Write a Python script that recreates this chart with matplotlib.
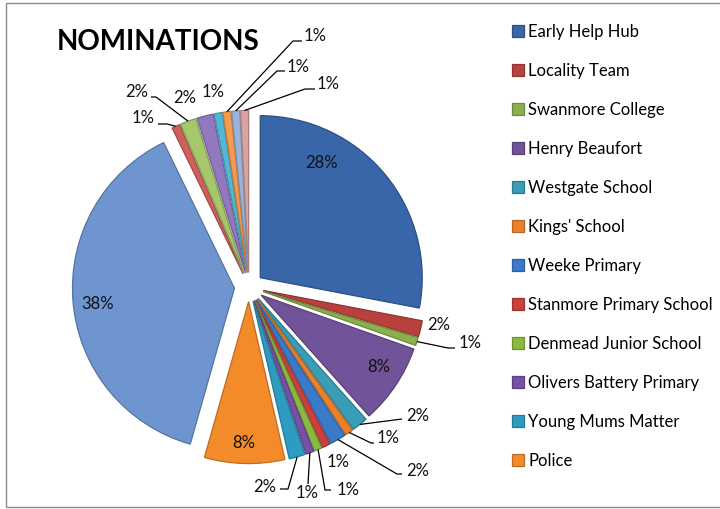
import matplotlib
matplotlib.use("Agg")
import matplotlib.pyplot as plt
from matplotlib.patches import Rectangle
import matplotlib.colors as mcolors
import numpy as np

plt.rcParams['font.family'] = ['Lato', 'DejaVu Sans']

# ---------------- data ----------------
title = "NOMINATIONS"
categories = ["Early Help Hub", "Locality Team", "Swanmore College", "Henry Beaufort",
              "Westgate School", "Kings' School", "Weeke Primary", "Stanmore Primary School",
              "Denmead Junior School", "Olivers Battery Primary", "Young Mums Matter", "Police"]
values = [35, 2, 1, 10, 2, 1, 2, 1, 1, 1, 2, 10, 48, 1, 2, 2, 1, 1, 1, 1]
colors = ['#3866A8', '#B8413D', '#8DB04E', '#71539A', '#3A9DB8', '#E9822C',
          '#3B79C9', '#C9403D', '#8CB940', '#7651A6', '#2E9CC0', '#F38B2B',
          '#6E95D0', '#D0605E', '#A6C86A', '#9278BF', '#53B9D3', '#F69B4E',
          '#9BB3DB', '#D9A3A1']

# ---------------- layout (pixels) ----------------
W, H = 720, 509
CX, CY, R = 249, 287, 162
EXPLODE = 0.09
# per slice: (text centre px, leader elbow points px or None)
label_layout = [
    ((322, 163), None),
    ((439, 325), None),
    ((470, 343), [(448, 348), (455, 348)]),
    ((379, 367), None),
    ((418, 416), [(402, 419)]),
    ((388, 438), [(371, 443), (374, 443)]),
    ((418, 471), [(397, 474), (402, 474)]),
    ((338, 462), None),
    ((348, 490), [(325, 490), (331, 490)]),
    ((307, 493), [(308, 484)]),
    ((265, 487), [(288, 489), (280, 489)]),
    ((244, 443), None),
    ((98, 304), None),
    ((143, 118), [(167, 124), (158, 124)]),
    ((137, 92), [(156, 97), (151, 97)]),
    ((185, 98), None),
    ((213, 92), None),
    ((315, 36), [(293, 41), (302, 41)]),
    ((298, 67), [(277, 71), (285, 71)]),
    ((328, 84), [(305, 89), (315, 89)]),
]


def px2d(p):
    return ((p[0] - CX) / R, (CY - p[1]) / R)


def darker(c, f=0.78):
    r, g, b = mcolors.to_rgb(c)
    return (r * f, g * f, b * f)


fig = plt.figure(figsize=(W / 100, H / 100), dpi=100)
ax = fig.add_axes([0, 0, 1, 1])
wedges, _ = ax.pie(values, colors=colors, startangle=90, counterclock=False,
                   explode=[EXPLODE] * len(values), radius=1,
                   wedgeprops=dict(linewidth=0.9))
for w, c in zip(wedges, colors):
    w.set_edgecolor(darker(c))
ax.set_xlim(-CX / R, (W - CX) / R)
ax.set_ylim(-(H - CY) / R, CY / R)
ax.set_aspect('auto')
ax.axis('off')

total = sum(values)
for w, v, (tpos, elbows) in zip(wedges, values, label_layout):
    pct = f"{round(v / total * 100):.0f}%"
    tx, ty = px2d(tpos)
    ax.text(tx, ty, pct, ha='center', va='center', fontsize=12, color='#111111')
    if elbows:
        mid = np.deg2rad((w.theta1 + w.theta2) / 2)
        sx = w.center[0] + w.r * np.cos(mid)
        sy = w.center[1] + w.r * np.sin(mid)
        pts = [(sx, sy)] + [px2d(e) for e in elbows]
        xs, ys = zip(*pts)
        ax.plot(xs, ys, color='black', lw=0.9, solid_capstyle='butt')

fig.text(57 / W, 1 - 42 / H, title, fontsize=20, fontweight='bold',
         ha='left', va='center', color='black')

leg = fig.legend(wedges[:len(categories)], categories, loc='upper left',
                 bbox_to_anchor=(512 / W, 1 - 24 / H), frameon=False,
                 fontsize=12, handlelength=0.72, handleheight=0.7,
                 handletextpad=0.25, labelspacing=1.38, borderpad=0,
                 borderaxespad=0)

fig.patches.append(Rectangle((6 / W, 1 - 507 / H), 1.2, (507 - 3) / H,
                             transform=fig.transFigure, fill=False,
                             edgecolor='#8c8c8c', lw=1.0))

fig.savefig('out.png', dpi=100, facecolor='white')
